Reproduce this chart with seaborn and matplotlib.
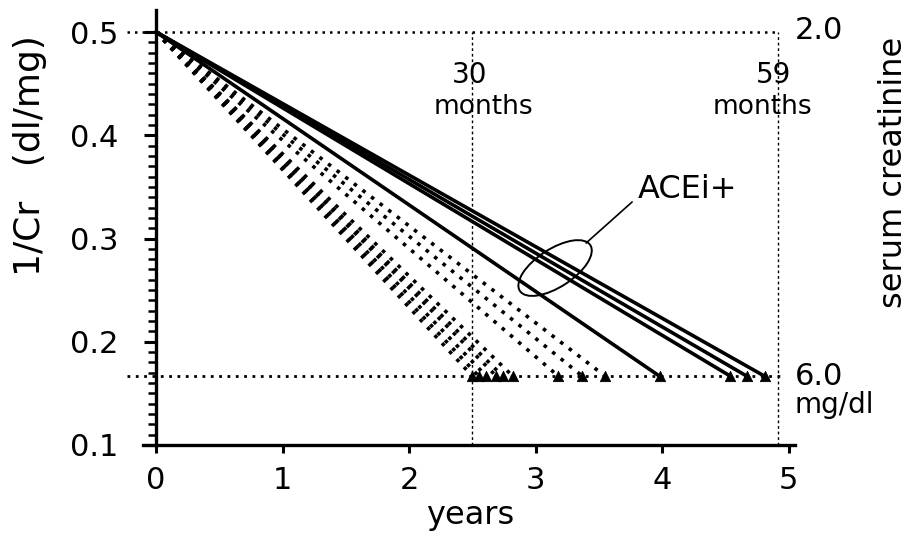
import numpy as np
import pandas as pd
import seaborn as sns
import matplotlib.pyplot as plt
import matplotlib.transforms as mtransforms
from matplotlib.patches import Ellipse
from matplotlib.ticker import FixedLocator

# years from serum Cr 2.0 to 6.0 mg/dl, one value per patient
acei_pos = [3.98, 4.54, 4.67, 4.81]
acei_neg = [2.50, 2.55, 2.61, 2.69, 2.74, 2.82, 3.18, 3.37, 3.55]
start_cr = 2.0
end_cr = 6.0
month_marks = [30, 59]
y_ticks = [0.1, 0.2, 0.3, 0.4, 0.5]
x_ticks = [0, 1, 2, 3, 4, 5]

rows = []
for i, t in enumerate(acei_pos + acei_neg):
    grp = 'ACEi+' if i < len(acei_pos) else 'ACEi-'
    rows.append({'patient': i, 'group': grp, 'years': 0.0, 'inv_cr': 1 / start_cr})
    rows.append({'patient': i, 'group': grp, 'years': t, 'inv_cr': 1 / end_cr})
df = pd.DataFrame(rows)
ends = df[df['years'] > 0]

sns.set_style('ticks')
plt.rcParams['font.family'] = ['DejaVu Sans']
plt.rcParams.update({'text.color': 'black', 'axes.labelcolor': 'black',
                     'xtick.color': 'black', 'ytick.color': 'black',
                     'axes.edgecolor': 'black'})

fig = plt.figure(figsize=(9.14, 5.44), dpi=100)
ax = fig.add_axes([0.139, 0.182, 0.7653, 0.799])

sns.lineplot(data=df, x='years', y='inv_cr', units='patient', estimator=None,
             style='group', dashes={'ACEi+': '', 'ACEi-': (1, 2)},
             color='black', linewidth=2.6, legend=False, ax=ax)
sns.scatterplot(data=ends, x='years', y='inv_cr', marker='^', s=55,
                color='black', edgecolor='black', legend=False, ax=ax, zorder=3)

# reference lines
ax.plot([-0.23, month_marks[1] / 12], [1 / start_cr] * 2, color='black', lw=1.8, ls=(0, (1, 2)))
ax.plot([-0.23, 4.93], [1 / end_cr] * 2, color='black', lw=2.0, ls=(0, (1, 2)))
for m in month_marks:
    ax.plot([m / 12] * 2, [0.1, 0.5], color='black', lw=1.0, ls=(0, (2, 2)))

ax.set_xlim(-0.23, 5.3)
ax.set_ylim(0.1, 0.521)
ax.spines['left'].set_position(('data', 0))
ax.spines['bottom'].set_bounds(-0.1, 5.05)
ax.spines[['top', 'right']].set_visible(False)
for s in ['left', 'bottom']:
    ax.spines[s].set_linewidth(2.4)

ax.set_xticks(x_ticks)
ax.set_xticklabels([str(v) for v in x_ticks])
ax.set_yticks(y_ticks)
ax.set_yticklabels([f'{v:.1f}' for v in y_ticks])
ax.yaxis.set_minor_locator(FixedLocator(np.arange(0.1, 0.505, 0.01)))
ax.tick_params(axis='x', direction='out', length=6, width=2.2, labelsize=22, pad=9)
ax.tick_params(axis='y', which='major', direction='out', length=9, width=2.2, labelsize=22, pad=18)
ax.tick_params(axis='y', which='minor', direction='out', length=6, width=1.8)

ax.set_xlabel('years', fontsize=23)
ax.xaxis.set_label_coords(0.49, -0.127)
ax.set_ylabel('1/Cr   (dl/mg)', fontsize=26)
ax.yaxis.set_label_coords(-0.114, 0.665)

# annotations
ax.text(2.48, 0.458, '30', fontsize=20, ha='center', va='center')
ax.text(2.585, 0.427, 'months', fontsize=19, ha='center', va='center')
ax.text(4.88, 0.458, '59', fontsize=20, ha='center', va='center')
ax.text(4.79, 0.427, 'months', fontsize=19, ha='center', va='center')
ax.text(5.05, 0.501, '2.0', fontsize=22, ha='left', va='center')
ax.text(5.05, 0.166, '6.0', fontsize=22, ha='left', va='center')
ax.text(5.05, 0.139, 'mg/dl', fontsize=20, ha='left', va='center')
ax.text(5.83, 0.364, 'serum creatinine', fontsize=23, rotation=90, ha='center', va='center')

ax.text(3.81, 0.347, 'ACEi+', fontsize=23, ha='left', va='center')
ax.plot([3.763, 3.399], [0.3354, 0.2956], color='black', lw=1.2)
trans = fig.dpi_scale_trans + mtransforms.ScaledTranslation(3.154, 0.2714, ax.transData)
ax.add_patch(Ellipse((0, 0), 0.84, 0.38, angle=33, transform=trans,
                     fill=False, lw=1.4, color='black'))

fig.savefig('out.png', dpi=100)
